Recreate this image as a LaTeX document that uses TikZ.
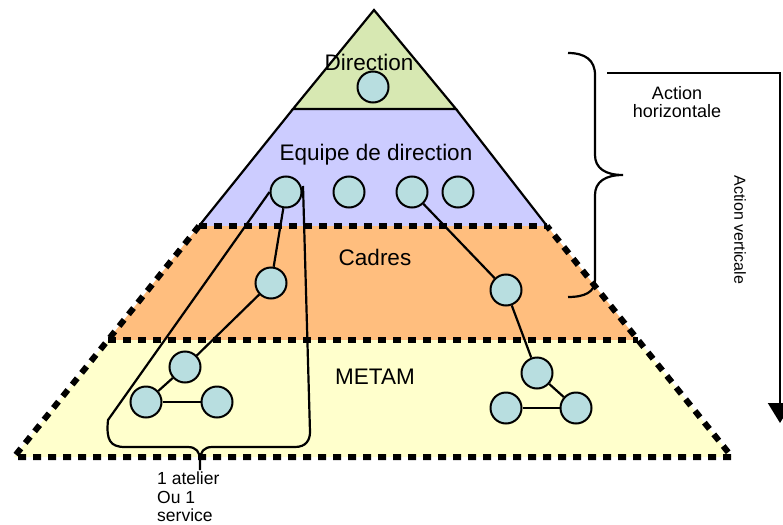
\documentclass[tikz,border=0pt]{standalone}
\usepackage{fontspec}
\setmainfont{Liberation Sans}
\usepackage{xcolor}
\usepackage{tikz}
\usetikzlibrary{arrows.meta}

\definecolor{dirgreen}{HTML}{D7E8B2}
\definecolor{eqblue}{HTML}{CCCCFF}
\definecolor{cadorange}{HTML}{FFBE7E}
\definecolor{metyellow}{HTML}{FFFFCC}
\definecolor{persblue}{HTML}{B8DEE0}

\tikzset{
  pers/.style={circle, draw=black, line width=2pt, fill=persblue, minimum size=31pt, inner sep=0pt},
  layer/.style={font=\fontsize{22.5}{26}\selectfont},
  note/.style={font=\fontsize{18}{20}\selectfont},
  squaredash/.style={line width=6pt, dash pattern=on 8pt off 7pt},
  link/.style={line width=2.2pt}
}

\begin{document}
\begin{tikzpicture}[x=1pt, y=1pt]
\useasboundingbox (0,0) rectangle (783,-524);

\coordinate (apex) at (374,-10);
\coordinate (dl) at (293,-109);
\coordinate (dr) at (456,-109);
\coordinate (el) at (199,-226);
\coordinate (er) at (547,-226);
\coordinate (cl) at (108,-340);
\coordinate (cr) at (638,-340);
\coordinate (ml) at (14,-457);
\coordinate (mr) at (732,-457);

\fill[color=dirgreen] (apex)--(dr)--(dl)--cycle;
\fill[color=eqblue] (dl)--(dr)--(er)--(el)--cycle;
\fill[color=cadorange] (el)--(er)--(cr)--(cl)--cycle;
\fill[color=metyellow] (cl)--(cr)--(mr)--(ml)--cycle;

\draw[line width=2.2pt, line join=miter] (dl)--(apex)--(dr)--cycle;
\draw[line width=2.2pt] (dl)--(el);
\draw[line width=2.2pt] (dr)--(er);

\draw[squaredash] (el)--(er);
\draw[squaredash] (cl)--(cr);
\draw[squaredash] (el)--(cl)--(ml)--(mr)--(cr)--(er);

\node[layer] (tdir) at (369,-62) {Direction};
\node[layer] (teq) at (376,-155) {Equipe de direction};
\node[layer] (tcad) at (375,-257) {Cadres};
\node[layer] (tmet) at (375,-377) {METAM};

\node[pers] (d1) at (373,-87) {};
\node[pers] (e1) at (286,-192) {};
\node[pers] (e2) at (349,-192) {};
\node[pers] (e3) at (412,-192) {};
\node[pers] (e4) at (458,-192) {};
\node[pers] (c1) at (271,-283) {};
\node[pers] (c2) at (506,-290) {};
\node[pers] (m1) at (185,-367) {};
\node[pers] (m2) at (146,-402) {};
\node[pers] (m3) at (217,-402) {};
\node[pers] (m4) at (537,-373) {};
\node[pers] (m5) at (506,-408) {};
\node[pers] (m6) at (576,-408) {};

\draw[link] (e1)--(c1);
\draw[link] (c1)--(m1);
\draw[link] (m1)--(m2);
\draw[link] (m2)--(m3);
\draw[link] (e3)--(c2);
\draw[link] (c2)--(m4);
\draw[link] (m4)--(m6);
\draw[link] (m5)--(m6);

\coordinate (tip) at (200,-460);
\coordinate (stem) at (200,-470);
\draw[link] (e1.west) -- (108,-420) .. controls (106,-440) and (110,-447) .. (125,-447)
  -- (188,-447) .. controls (196,-447) and (200,-452) .. (tip) -- (stem);
\draw[link] (tip) .. controls (200,-452) and (204,-447) .. (212,-447)
  -- (295,-447) .. controls (306,-447) and (310,-440) .. (310,-432) -- (303,-186);
\node[note, anchor=north west, align=left, inner sep=0pt, font=\fontsize{17.5}{18.5}\selectfont] (atelier) at (157,-472)
  {1 atelier\\Ou 1\\service};

\draw[link] (568,-53) .. controls (585,-53) and (595,-60) .. (595,-75) -- (595,-155)
  .. controls (595,-168) and (605,-175) .. (623,-175)
  .. controls (605,-175) and (595,-182) .. (595,-195) -- (595,-280)
  .. controls (595,-292) and (585,-297) .. (568,-297);

\coordinate (hstart) at (607,-73);
\coordinate (corner) at (780,-73);
\coordinate (vend) at (780,-423);
\draw[link, -{Triangle[length=20pt, width=24pt]}] (hstart)--(corner)--(vend);

\node[note, align=center] (horiz) at (677,-102) {Action\\[-2pt]horizontale};
\node[note, rotate=-90, font=\fontsize{16}{18}\selectfont] (vert) at (740,-230) {Action verticale};
\end{tikzpicture}
\end{document}
